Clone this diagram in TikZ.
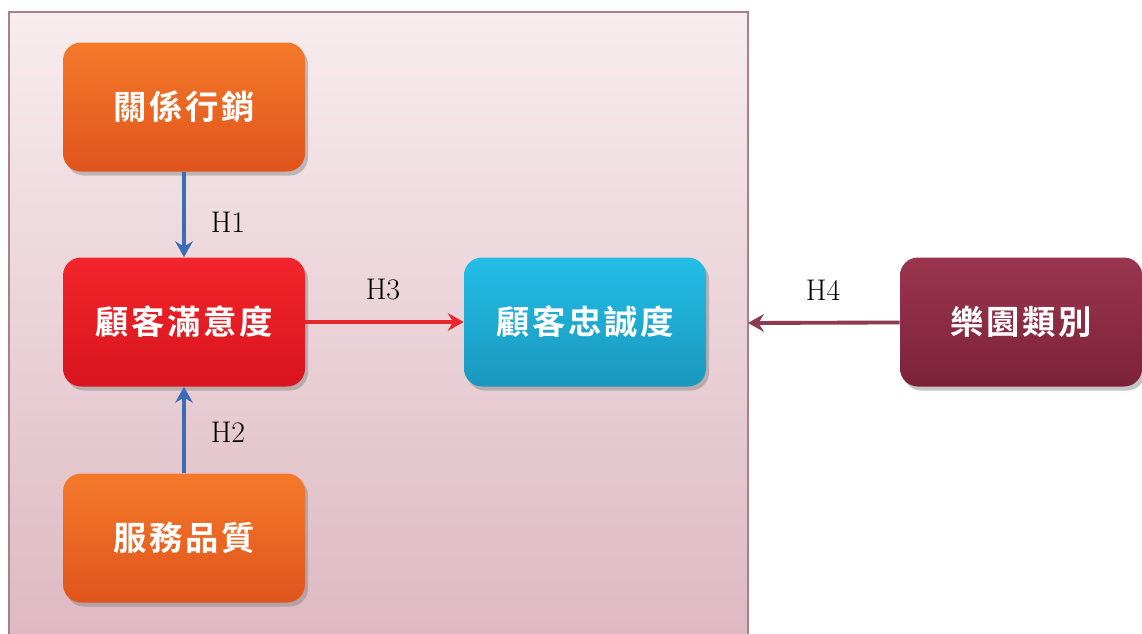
\documentclass[tikz,border=0pt]{standalone}
\usepackage{fontspec}
\newfontfamily\cjk{Noto Sans CJK TC Bold}
\usetikzlibrary{shadows,arrows.meta}
\definecolor{frameedge}{HTML}{A8808A}
\definecolor{bgtop}{HTML}{F7ECEE}
\definecolor{bgbot}{HTML}{DDB7C0}
\definecolor{orTop}{HTML}{F4792A}
\definecolor{orBot}{HTML}{E0541C}
\definecolor{rdTop}{HTML}{F2252B}
\definecolor{rdBot}{HTML}{D8141E}
\definecolor{cyTop}{HTML}{22BDE6}
\definecolor{cyBot}{HTML}{1A98BE}
\definecolor{mrTop}{HTML}{9A3550}
\definecolor{mrBot}{HTML}{7C2238}
\definecolor{bluearr}{HTML}{3A6DB5}
\definecolor{redarr}{HTML}{E8262E}
\definecolor{mrarr}{HTML}{8E3A50}
\newcommand{\gp}{\kern1.5pt}
\tikzset{
  box/.style={rounded corners=18*0.02cm, minimum width=242*0.02cm, minimum height=129*0.02cm,
    inner sep=0pt, text=white, font=\cjk\fontsize{19}{21}\selectfont,
    drop shadow={shadow xshift=0.06cm, shadow yshift=-0.08cm, opacity=0.45}},
  orbox/.style={box, top color=orTop, bottom color=orBot},
  rdbox/.style={box, top color=rdTop, bottom color=rdBot},
  cybox/.style={box, top color=cyTop, bottom color=cyBot},
  mrbox/.style={box, top color=mrTop, bottom color=mrBot},
  conn/.style={line width=2.2pt, -{Stealth[length=9pt,width=10pt,inset=3pt]}},
  hlab/.style={font=\fontsize{17}{20}\selectfont, text=black}
}
\begin{document}
\begin{tikzpicture}[x=0.02cm,y=-0.02cm]
\useasboundingbox (0,0) rectangle (1142,633);
\fill[white] (0,0) rectangle (1142,633);
\begin{scope}
\clip (0,0) rectangle (1142,633);
\shade[top color=bgtop, bottom color=bgbot, draw=frameedge, line width=1.2pt] (9,12) rectangle (748,660);
\end{scope}
\coordinate (fr) at (748,323);
\node[orbox] (rm) at (184,107) {關\gp 係\gp 行\gp 銷};
\node[rdbox] (cs) at (184,322) {顧\gp 客\gp 滿\gp 意\gp 度};
\node[orbox] (sq) at (184,538) {服\gp 務\gp 品\gp 質};
\node[cybox] (cl) at (585,322) {顧\gp 客\gp 忠\gp 誠\gp 度};
\node[mrbox] (pt) at (1021,322) {樂\gp 園\gp 類\gp 別};
\draw[conn, bluearr] (rm) -- (cs);
\draw[conn, bluearr] (sq) -- (cs);
\draw[conn, redarr] (cs) -- (cl);
\draw[conn, mrarr] (pt) -- (fr);
\node[hlab] at (228,222) {H1};
\node[hlab] at (228,432) {H2};
\node[hlab] at (383,290) {H3};
\node[hlab] at (823,290) {H4};
\end{tikzpicture}
\end{document}
